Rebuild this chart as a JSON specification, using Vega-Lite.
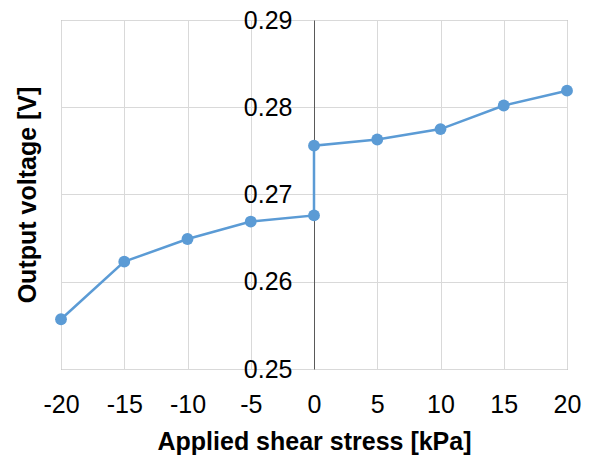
{
  "$schema": "https://vega.github.io/schema/vega-lite/v6.json",
  "width": 506,
  "height": 349,
  "autosize": {"type": "none"},
  "padding": {"left": 61, "top": 20, "right": 25, "bottom": 87},
  "background": "white",
  "config": {
    "view": {"stroke": "#898989", "strokeWidth": 1},
    "font": "Liberation Sans"
  },
  "data": {
    "values": [
      {"i": 1, "stress": -20, "voltage": 0.2557},
      {"i": 2, "stress": -15, "voltage": 0.2623},
      {"i": 3, "stress": -10, "voltage": 0.2649},
      {"i": 4, "stress": -5, "voltage": 0.2669},
      {"i": 5, "stress": 0, "voltage": 0.2676},
      {"i": 6, "stress": 0, "voltage": 0.2756},
      {"i": 7, "stress": 5, "voltage": 0.2763},
      {"i": 8, "stress": 10, "voltage": 0.2775},
      {"i": 9, "stress": 15, "voltage": 0.2802},
      {"i": 10, "stress": 20, "voltage": 0.2819}
    ]
  },
  "encoding": {
    "x": {
      "field": "stress",
      "type": "quantitative",
      "scale": {"domain": [-20, 20], "nice": false, "zero": false},
      "axis": {
        "values": [-20, -15, -10, -5, 0, 5, 10, 15, 20],
        "labelExpr": "'' + datum.value",
        "title": "Applied shear stress [kPa]",
        "grid": true,
        "gridColor": "#D9D9D9",
        "domain": false,
        "ticks": false,
        "tickSize": 0,
        "labelFontSize": 25,
        "labelColor": "#000000",
        "labelPadding": 23,
        "labelFlush": false,
        "titleFontSize": 25,
        "titleFontWeight": "bold",
        "titleColor": "#000000",
        "titlePadding": 12
      }
    },
    "y": {
      "field": "voltage",
      "type": "quantitative",
      "scale": {"domain": [0.25, 0.29], "nice": false, "zero": false},
      "axis": {
        "values": [0.25, 0.26, 0.27, 0.28, 0.29],
        "format": ".2f",
        "offset": -253,
        "title": "Output voltage [V]",
        "grid": true,
        "gridColor": "#D9D9D9",
        "domain": true,
        "domainColor": "#595959",
        "ticks": false,
        "tickSize": 0,
        "labelFontSize": 25,
        "labelColor": "#000000",
        "labelPadding": 22,
        "labelFlush": false,
        "titleFontSize": 25,
        "titleFontWeight": "bold",
        "titleColor": "#000000",
        "titleX": -287,
        "titleY": 174.5,
        "titleAngle": -90,
        "titleAlign": "center",
        "titleBaseline": "middle"
      }
    }
  },
  "layer": [
    {
      "mark": {"type": "line", "color": "#5B9BD5", "strokeWidth": 2.5},
      "encoding": {"order": {"field": "i", "type": "quantitative"}}
    },
    {
      "mark": {"type": "circle", "color": "#5B9BD5", "size": 140, "opacity": 1}
    }
  ]
}
